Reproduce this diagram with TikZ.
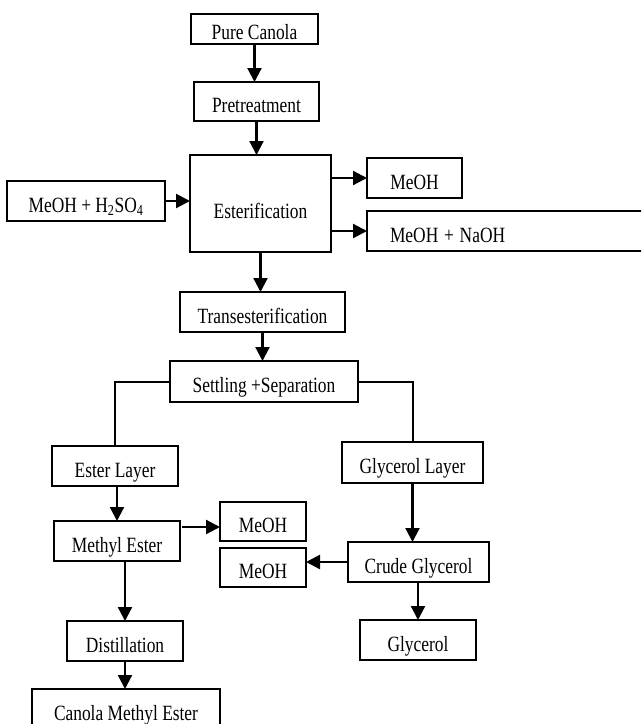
\documentclass[tikz,border=0pt]{standalone}
\usepackage{fontspec}
\usepackage{graphicx}
\setmainfont{Liberation Serif}
\usetikzlibrary{arrows.meta}
\newcommand{\vs}[1]{\scalebox{1}[1.25]{#1}}
\tikzset{
  box/.style={draw, line width=2pt, rectangle, inner sep=3pt, outer sep=0pt,
    text height=22pt, text depth=0pt, font=\fontsize{17.4}{20}\selectfont},
  arr/.style={line width=2.2pt, -{Triangle[length=14pt,width=14pt]}},
  link/.style={line width=2pt}
}
\begin{document}
\begin{tikzpicture}[x=1pt,y=-1pt]
\useasboundingbox (0,0) rectangle (641,724);
\clip (0,0) rectangle (641,724);
\node[box, minimum width=127pt, minimum height=30pt, text height=20pt] (pc) at (254.5,29) {\vs{Pure Canola}};
\node[box, minimum width=125pt, minimum height=39pt] (pre) at (256.5,101.5) {\vs{Pretreatment}};
\node[box, minimum width=141pt, minimum height=97pt, text height=29pt] (est) at (260.5,203.5) {\vs{Esterification}};
\node[box, minimum width=158pt, minimum height=40pt] (h2) at (86,201) {\vs{MeOH + H\textsubscript{2}SO\textsubscript{4}}};
\node[box, minimum width=95pt, minimum height=40pt] (m0) at (414.5,178) {\vs{MeOH}};
\node[box, minimum width=300pt, minimum height=40pt, text width=254pt, align=left, inner xsep=23pt] (naoh) at (517,231) {\vs{MeOH + NaOH}};
\node[box, minimum width=165pt, minimum height=40pt] (tr) at (262.5,312) {\vs{Transesterification}};
\node[box, minimum width=188pt, minimum height=41pt] (set) at (264,381.5) {\vs{Settling +Separation}};
\node[box, minimum width=126pt, minimum height=40pt] (el) at (115,466) {\vs{Ester Layer}};
\node[box, minimum width=141pt, minimum height=41pt] (gl) at (412.5,462.5) {\vs{Glycerol Layer}};
\node[box, minimum width=126pt, minimum height=40pt] (me) at (117,541) {\vs{Methyl Ester}};
\node[box, minimum width=86pt, minimum height=39pt] (m1) at (263,521.5) {\vs{MeOH}};
\node[box, minimum width=86pt, minimum height=39pt] (m2) at (263,567.5) {\vs{MeOH}};
\node[box, minimum width=141pt, minimum height=40pt] (cg) at (418.5,562) {\vs{Crude Glycerol}};
\node[box, minimum width=116pt, minimum height=40pt] (gly) at (418,640) {\vs{Glycerol}};
\node[box, minimum width=116pt, minimum height=40pt] (dist) at (125,641) {\vs{Distillation}};
\node[box, minimum width=188pt, minimum height=40pt] (cme) at (126,709) {\vs{Canola Methyl Ester}};

\draw[arr] (pc.south) -- (pc.south |- pre.north);
\draw[arr] (pre.south) -- (pre.south |- est.north);
\draw[arr] (h2.east) -- (h2.east -| est.west);
\draw[arr] (est.east |- m0.west) -- (m0.west);
\draw[arr] (est.east |- naoh.west) -- (naoh.west);
\draw[arr] (est.south) -- (est.south |- tr.north);
\draw[arr] (tr.south) -- (tr.south |- set.north);
\draw[link] (set.west) -| (el.north);
\draw[link] (set.east) -| (gl.north);
\draw[arr] (el.south -| me.north) -- (me.north);
\coordinate (a1) at ([yshift=14pt,xshift=2pt]me.east);
\draw[arr] (a1) -- (a1 -| m1.west);
\draw[arr] (me.south -| dist.north) -- (dist.north);
\draw[arr] (dist.south) -- (dist.south |- cme.north);
\draw[arr] (gl.south) -- (gl.south |- cg.north);
\draw[arr] (cg.west) -- (cg.west -| m2.east);
\draw[arr] (cg.south -| gly.north) -- (gly.north);
\end{tikzpicture}
\end{document}
